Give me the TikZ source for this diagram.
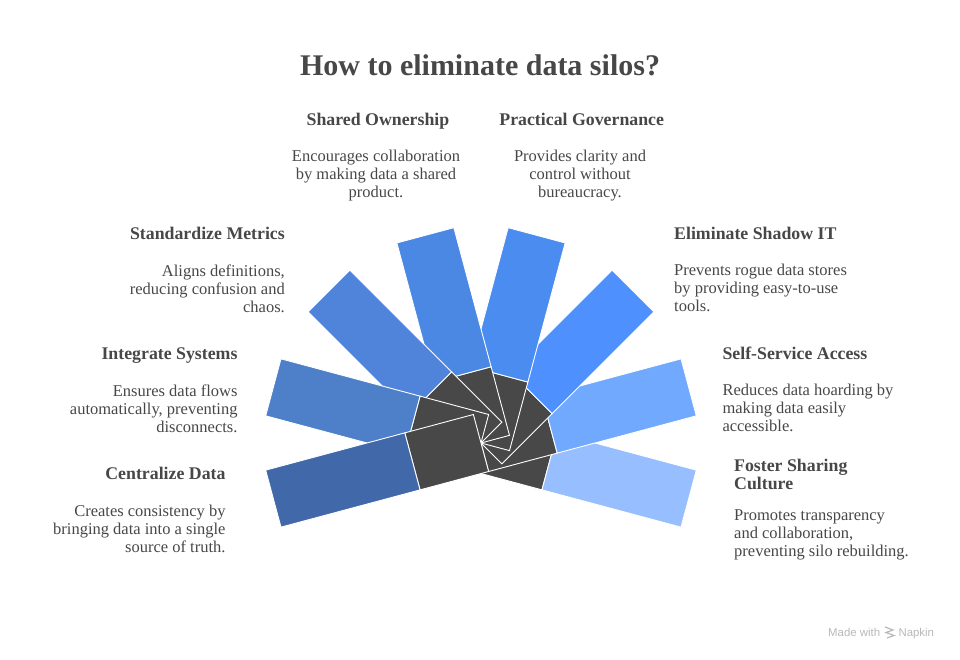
\documentclass[tikz,border=0pt]{standalone}
\usepackage{fontspec}
\setmainfont{Liberation Serif}
\newfontfamily\markfont{Liberation Sans}
\usetikzlibrary{positioning}

\definecolor{ink}{HTML}{474747}
\definecolor{core}{HTML}{484848}
\definecolor{bladeA}{HTML}{4169A9}
\definecolor{bladeB}{HTML}{4E7FC9}
\definecolor{bladeC}{HTML}{4F84DA}
\definecolor{bladeD}{HTML}{4A88E4}
\definecolor{bladeE}{HTML}{4B8CF0}
\definecolor{bladeF}{HTML}{4D90FE}
\definecolor{bladeG}{HTML}{71A9FE}
\definecolor{bladeH}{HTML}{97BEFE}
\definecolor{markgray}{HTML}{B8B8B8}

\tikzset{
  blade/.style={draw=white, line width=0.9pt},
  heading/.style={font=\bfseries\fontsize{17.8}{18}\selectfont, text=ink, inner sep=0pt},
  body/.style={font=\fontsize{16.5}{18}\selectfont, text=ink, inner sep=0pt},
  madewith/.style={font=\markfont\fontsize{11.4}{12}\selectfont, text=markgray, inner sep=0pt},
}

\begin{document}
\begin{tikzpicture}[x=1pt,y=1pt]
  \useasboundingbox (0,0) rectangle (960,660);

  % fan of blades, the later one lies on top
  \foreach \a/\c in {-15/bladeH,15/bladeG,45/bladeF,75/bladeE,105/bladeD,135/bladeC,165/bladeB,195/bladeA} {
    \begin{scope}[shift={(481,217)},rotate=\a]
      \filldraw[blade,fill=core] (0,-29.5) rectangle (71,29.5);
      \filldraw[blade,fill=\c] (71,-29.5) rectangle (215,29.5);
    \end{scope}
  }

  \node[heading,font=\bfseries\fontsize{30}{32}\selectfont,anchor=base] (title) at (480,584.7) {How to eliminate data silos?};

  % top pair (base = last line)
  \node[heading,anchor=base] (shared) at (378,534) {Shared Ownership};
  \node[body,anchor=base,align=center] (sharedtxt) at (376,462) {Encourages collaboration\\by making data a shared\\product.};
  \node[heading,anchor=base] (practical) at (581.7,534) {Practical Governance};
  \node[body,anchor=base,align=center] (practicaltxt) at (580,462) {Provides clarity and\\control without\\bureaucracy.};

  % left side
  \node[heading,anchor=base east] (metrics) at (285,420) {Standardize Metrics};
  \node[body,anchor=base east,align=right] (metricstxt) at (285,347.5) {Aligns definitions,\\reducing confusion and\\chaos.};
  \node[heading,anchor=base east] (integrate) at (237.7,300) {Integrate Systems};
  \node[body,anchor=base east,align=right] (integratetxt) at (237.7,227.5) {Ensures data flows\\automatically, preventing\\disconnects.};
  \node[heading,anchor=base east] (central) at (225.7,180.2) {Centralize Data};
  \node[body,anchor=base east,align=right] (centraltxt) at (225.7,107.5) {Creates consistency by\\bringing data into a single\\source of truth.};

  % right side
  \node[heading,anchor=base west] (shadow) at (674,420) {Eliminate Shadow IT};
  \node[body,anchor=base west,align=left] (shadowtxt) at (674,348.2) {Prevents rogue data stores\\by providing easy-to-use\\tools.};
  \node[heading,anchor=base west] (selfserve) at (722.3,300.2) {Self-Service Access};
  \node[body,anchor=base west,align=left] (selfservetxt) at (722.3,228.5) {Reduces data hoarding by\\making data easily\\accessible.};
  \node[heading,anchor=base west,align=left] (foster) at (734,170.5) {Foster Sharing\\Culture};
  \node[body,anchor=base west,align=left] (fostertxt) at (734,103.2) {Promotes transparency\\and collaboration,\\preventing silo rebuilding.};

  % watermark
  \node[madewith,anchor=base west] (made) at (828,23.3) {Made with};
  \node[madewith,right=18pt of made.base east,anchor=base west] (napkin) {Napkin};
  \draw[markgray,line width=1.2pt] (885,33) -- (893,30) -- (886,27.5) -- (894,24.5) -- (887,22);
\end{tikzpicture}
\end{document}
